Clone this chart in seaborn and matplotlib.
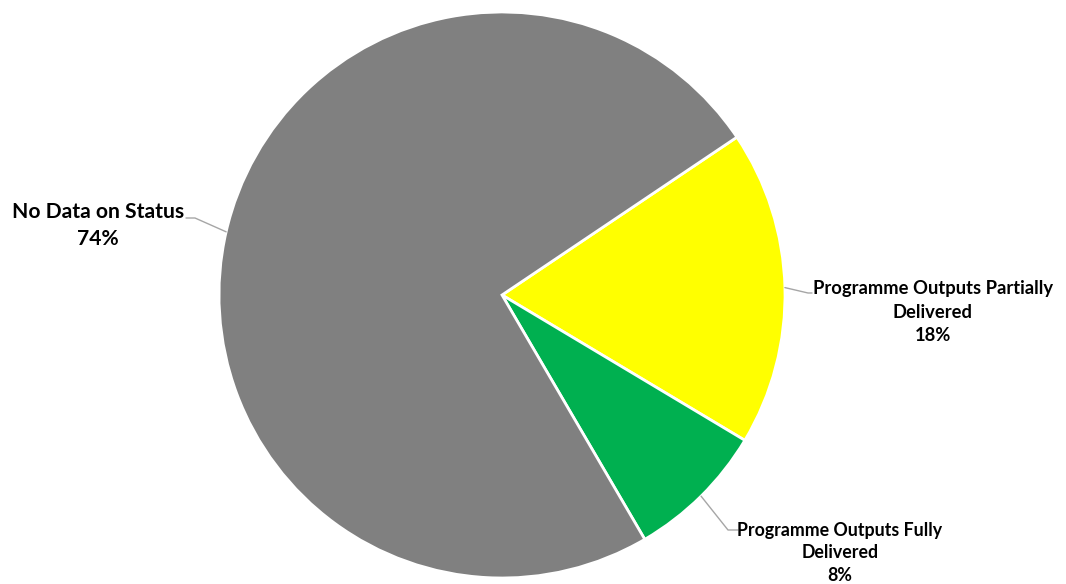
import numpy as np
import matplotlib
matplotlib.use("Agg")
import matplotlib.pyplot as plt
import seaborn as sns

# Programme output delivery status (share of programmes)
categories = ["Programme Outputs Partially\nDelivered",
              "Programme Outputs Fully\nDelivered",
              "No Data on Status"]
shares = [18, 8, 74]
colors = ["#FFFF00", "#00B050", "#808080"]

sns.set_theme(style="white")
plt.rcParams["font.family"] = ["Lato", "DejaVu Sans"]

W, H = 1066, 584
fig = plt.figure(figsize=(W / 100, H / 100), dpi=100)
ax = fig.add_axes([0, 0, 1, 1])

cx, cy, r = 502, H - 295, 283
start = 33.9
wedges, _ = ax.pie(shares, colors=colors, startangle=start, counterclock=False,
                   center=(cx, cy), radius=r, frame=True,
                   wedgeprops=dict(edgecolor="white", linewidth=2))
ax.set_xlim(0, W)
ax.set_ylim(0, H)
ax.set_aspect("equal")
ax.axis("off")

# label placement: centre x, first-line baseline (px from top), line step, font size
label_x = [933, 840, 98]
label_base = [294, 536, 218]
line_step = [23.5, 22.5, 27]
font_sizes = [13.2, 12.8, 15.2]
elbows = [((808, H - 293), (812, H - 293)),
          ((728, H - 530), (738, H - 530)),
          ((195, H - 218), (186, H - 218))]

for w, pct, name, tx, tb, step, fs, (e1, e2) in zip(
        wedges, shares, categories, label_x, label_base, line_step, font_sizes, elbows):
    mid = np.deg2rad((w.theta1 + w.theta2) / 2)
    px, py = cx + r * np.cos(mid), cy + r * np.sin(mid)
    ax.plot([px, e1[0], e2[0]], [py, e1[1], e2[1]], color="#A6A6A6", lw=1, zorder=1)
    lines = name.split("\n") + [f"{pct}%"]
    for i, line in enumerate(lines):
        ax.text(tx, H - (tb + i * step), line, ha="center", va="baseline",
                fontsize=fs, fontweight="bold", color="black")

fig.savefig("out.png", dpi=100)
